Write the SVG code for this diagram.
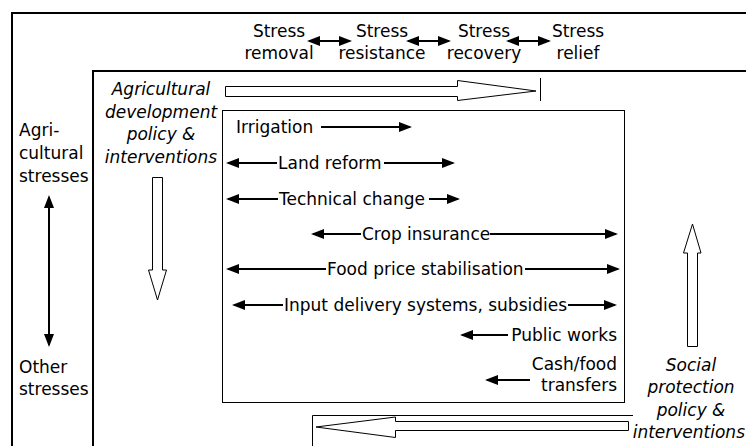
<svg xmlns="http://www.w3.org/2000/svg" width="746" height="446" viewBox="0 0 746 446">
  <style>
    text { font-family: "DejaVu Sans", Verdana, sans-serif; font-size: 17px; fill: #000; }
    .it { font-style: italic; }
    .mid { text-anchor: middle; }
    .end { text-anchor: end; }
    .frame { fill: none; stroke: #000; stroke-width: 2; }
    .thin { fill: none; stroke: #000; stroke-width: 1; }
    .hollow { fill: #fff; stroke: #000; stroke-width: 1; }
    .arr { fill: none; stroke: #000; stroke-width: 2; marker-end: url(#head); }
    .dbl { fill: none; stroke: #000; stroke-width: 2; marker-start: url(#head); marker-end: url(#head); }
  </style>
  <defs>
    <marker id="head" markerUnits="userSpaceOnUse" markerWidth="13" markerHeight="10" refX="11" refY="5" orient="auto-start-reverse">
      <path d="M0,0 L13,5 L0,10 z" fill="#000"/>
    </marker>
  </defs>

  <rect width="746" height="446" fill="#fff"/>

  <!-- frames -->
  <g id="frames">
    <path class="frame" d="M12,446 V13 H746"/>
    <path class="frame" d="M93,446 V71 H746"/>
    <rect id="instrument-box" class="thin" x="222.5" y="110.5" width="402" height="292"/>
    <path class="thin" d="M540.5,78 V101"/>
    <path class="thin" d="M312.5,446 V415.5 H633"/>
  </g>

  <!-- stress continuum -->
  <g id="stress-removal"><text class="mid" x="279" y="37">Stress</text><text class="mid" x="279" y="59">removal</text></g>
  <g id="stress-resistance"><text class="mid" x="382" y="37">Stress</text><text class="mid" x="382" y="59">resistance</text></g>
  <g id="stress-recovery"><text class="mid" x="484" y="37">Stress</text><text class="mid" x="484" y="59">recovery</text></g>
  <g id="stress-relief"><text class="mid" x="578" y="37">Stress</text><text class="mid" x="578" y="59">relief</text></g>

  <!-- stress types -->
  <g id="agri-stresses"><text x="19" y="136">Agri-</text><text x="19" y="159">cultural</text><text x="19" y="182">stresses</text></g>
  <g id="other-stresses"><text x="19" y="373">Other</text><text x="19" y="395">stresses</text></g>

  <!-- policy domains -->
  <g id="agri-policy">
    <text class="it mid" x="161" y="95">Agricultural</text>
    <text class="it mid" x="161" y="118">development</text>
    <text class="it mid" x="161" y="140">policy &amp;</text>
    <text class="it mid" x="161" y="163">interventions</text>
  </g>
  <g id="social-policy">
    <text class="it mid" x="691" y="371">Social</text>
    <text class="it mid" x="691" y="393">protection</text>
    <text class="it mid" x="691" y="416">policy &amp;</text>
    <text class="it end" x="745" y="438">interventions</text>
  </g>

  <!-- instruments -->
  <g id="irrigation"><text x="236" y="133">Irrigation</text></g>
  <g id="land-reform"><text x="278" y="169">Land reform</text></g>
  <g id="technical-change"><text x="279" y="205">Technical change</text></g>
  <g id="crop-insurance"><text x="362" y="240">Crop insurance</text></g>
  <g id="food-price"><text x="327" y="275">Food price stabilisation</text></g>
  <g id="input-delivery"><text x="284" y="311">Input delivery systems, subsidies</text></g>
  <g id="public-works"><text class="end" x="617" y="341">Public works</text></g>
  <g id="cash-transfers"><text class="end" x="617" y="370">Cash/food</text><text class="end" x="617" y="391">transfers</text></g>

  <!-- connectors -->
  <g id="connectors">
    <!-- stress continuum links -->
    <line class="dbl" x1="309" y1="41" x2="350" y2="41"/>
    <line class="dbl" x1="408" y1="41" x2="449" y2="41"/>
    <line class="dbl" x1="508" y1="41" x2="549" y2="41"/>
    <!-- stress type axis -->
    <line class="dbl" x1="49" y1="197" x2="49" y2="345"/>
    <!-- instrument ranges -->
    <line class="arr" x1="321" y1="127" x2="410" y2="127"/>
    <line class="arr" x1="277" y1="163" x2="228" y2="163"/>
    <line class="arr" x1="384" y1="163" x2="453" y2="163"/>
    <line class="arr" x1="278" y1="199" x2="228" y2="199"/>
    <line class="arr" x1="429" y1="199" x2="458" y2="199"/>
    <line class="arr" x1="361" y1="234" x2="313" y2="234"/>
    <line class="arr" x1="490" y1="234" x2="616" y2="234"/>
    <line class="arr" x1="326" y1="269" x2="228" y2="269"/>
    <line class="arr" x1="525" y1="269" x2="618" y2="269"/>
    <line class="arr" x1="283" y1="305" x2="234" y2="305"/>
    <line class="arr" x1="568" y1="305" x2="615" y2="305"/>
    <line class="arr" x1="508" y1="335" x2="462" y2="335"/>
    <line class="arr" x1="530" y1="380" x2="487" y2="380"/>
    <!-- policy direction block arrows -->
    <path class="hollow" d="M225.5,86.5 H457.5 V80.5 L536,91 L457.5,100.5 V96.5 H225.5 Z"/>
    <path class="hollow" d="M152.5,177.5 H162.5 V270 H166.5 L157.5,300 L148.5,270 H152.5 Z"/>
    <path class="hollow" d="M687.5,346.5 H697.5 V253 H701 L692.5,224 L683.5,253 H687.5 Z"/>
    <path class="hollow" d="M628.5,421.5 H395.5 V417 L316,427 L395.5,437.5 V430.5 H628.5 Z"/>
  </g>
</svg>
